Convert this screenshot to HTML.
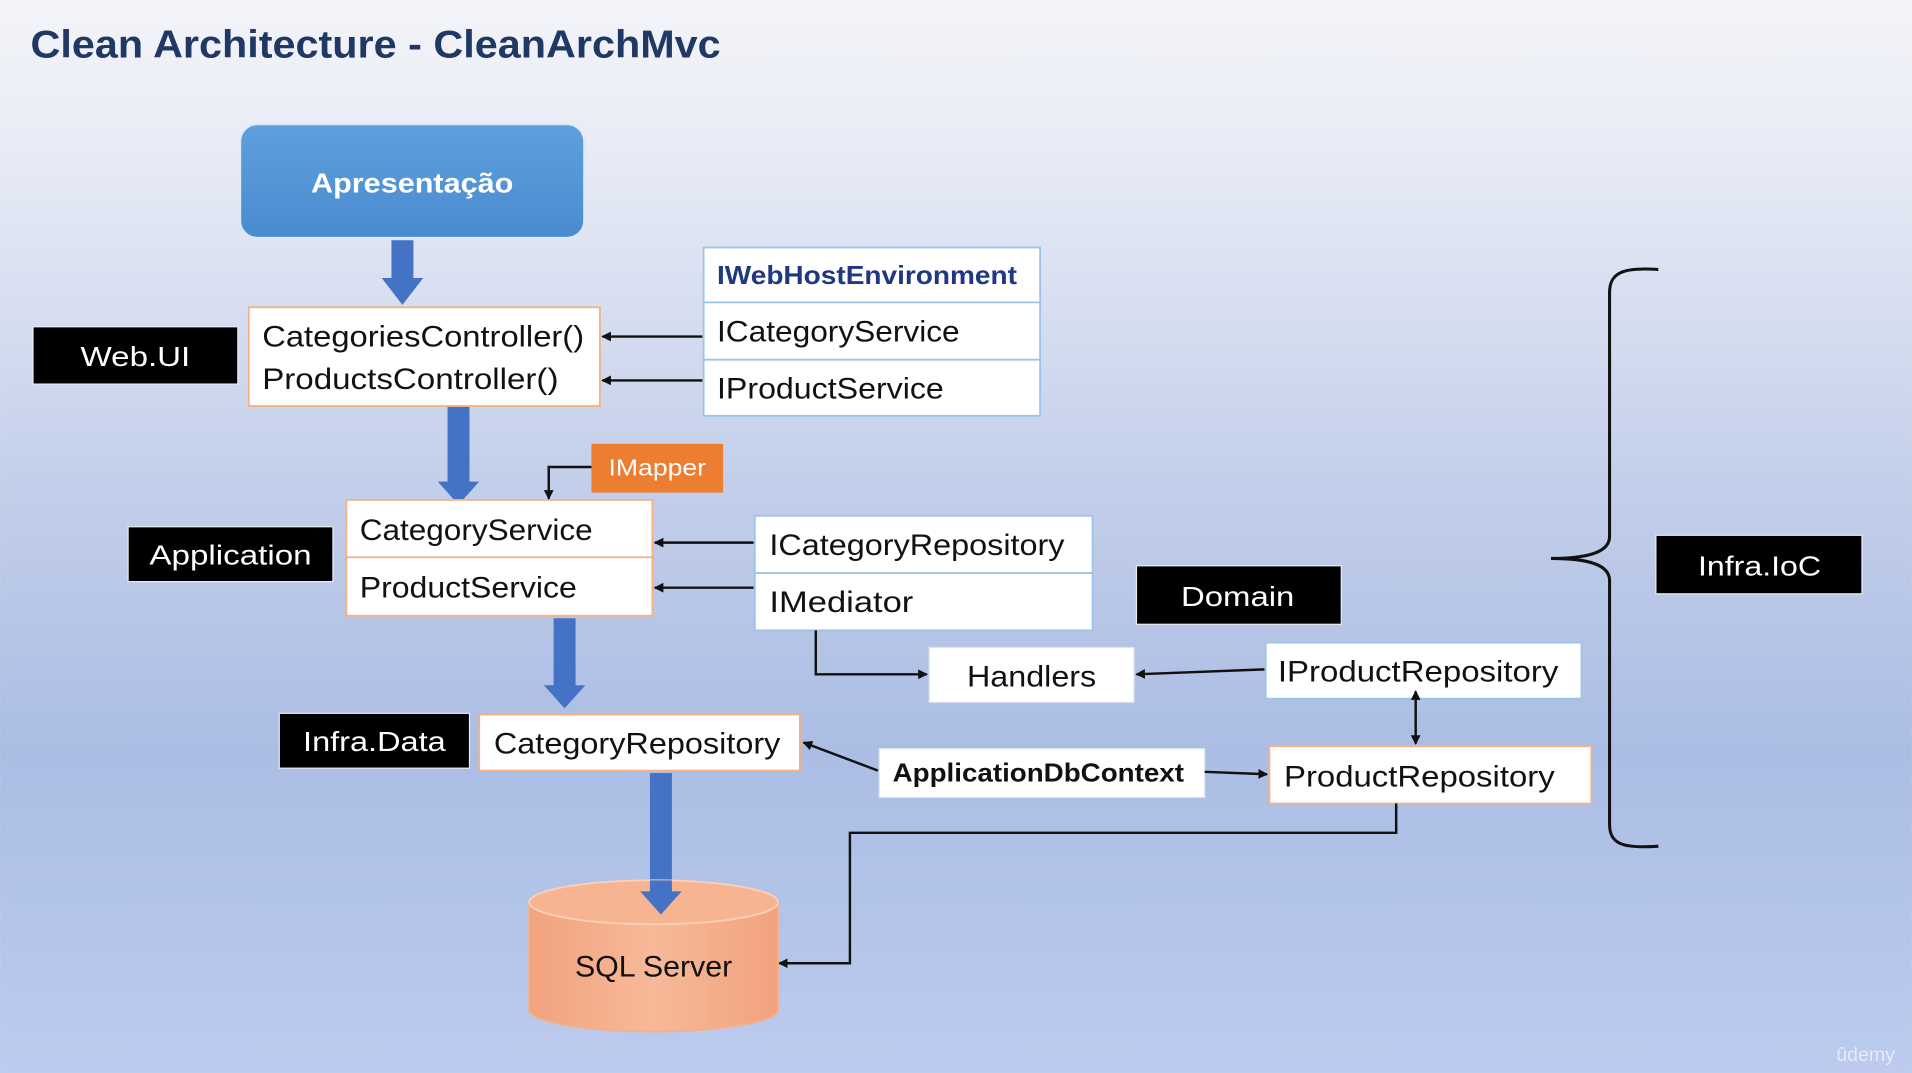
<!DOCTYPE html>
<html><head><meta charset="utf-8"><style>
html,body{margin:0;padding:0;width:1912px;height:1073px;overflow:hidden}
svg{display:block}
text{font-family:"Liberation Sans",sans-serif}
</style></head><body>
<svg width="1912" height="1073" viewBox="0 0 1568 880" xmlns="http://www.w3.org/2000/svg">
<defs>
<linearGradient id="bg" x1="0" y1="0" x2="0" y2="1">
<stop offset="0" stop-color="#f3f4f8"/><stop offset="0.12" stop-color="#eaedf6"/>
<stop offset="0.45" stop-color="#c3cfea"/><stop offset="0.7" stop-color="#abbde4"/>
<stop offset="1" stop-color="#bccbee"/></linearGradient>
<linearGradient id="ap" x1="0" y1="0" x2="0" y2="1"><stop offset="0" stop-color="#5ea0dc"/><stop offset="1" stop-color="#4a8bd0"/></linearGradient>
<linearGradient id="cyl" x1="0" y1="0" x2="1" y2="0"><stop offset="0" stop-color="#f2a27e"/><stop offset="0.5" stop-color="#f7b999"/><stop offset="1" stop-color="#f2a27e"/></linearGradient>
<marker id="ah" markerWidth="8" markerHeight="8" refX="7" refY="4" orient="auto" markerUnits="userSpaceOnUse"><path d="M0,0 L8,4 L0,8 z" fill="#111"/></marker>
<marker id="ahs" markerWidth="8" markerHeight="8" refX="7" refY="4" orient="auto-start-reverse" markerUnits="userSpaceOnUse"><path d="M0,0 L8,4 L0,8 z" fill="#111"/></marker>
</defs>
<rect width="1568" height="880" fill="url(#bg)"/>
<text x="25" y="47" font-size="32" font-weight="bold" fill="#1f3864" textLength="566" lengthAdjust="spacingAndGlyphs">Clean Architecture - CleanArchMvc</text>

<rect x="197" y="102" width="282" height="93" rx="14" fill="url(#ap)" stroke="#dfe9f6" stroke-width="1.5"/>
<text x="338" y="158" font-size="23" font-weight="bold" fill="#fff" text-anchor="middle" textLength="166" lengthAdjust="spacingAndGlyphs">Apresentação</text>

<g fill="#4472c4">
<path d="M321,197 h18 v31 h8 l-17,22 l-17,-22 h8 z"/>
<path d="M367,333 h18 v62 h8 l-17,19 l-17,-19 h8 z"/>
<path d="M454,507 h18 v55 h8 l-17,19 l-17,-19 h8 z"/>
<path d="M533,634 h18 v97 h8 l-17,19 l-17,-19 h8 z"/>
</g>

<g fill="#000" stroke="#e8ecf4" stroke-width="1">
<rect x="27" y="268" width="168" height="47"/>
<rect x="105" y="432" width="168" height="45"/>
<rect x="229" y="585" width="156" height="45"/>
<rect x="932" y="464" width="168" height="48"/>
<rect x="1358" y="439" width="169" height="48"/>
</g>
<g fill="#fff" font-size="23" text-anchor="middle">
<text x="111" y="300" textLength="90" lengthAdjust="spacingAndGlyphs">Web.UI</text>
<text x="189" y="463" textLength="133" lengthAdjust="spacingAndGlyphs">Application</text>
<text x="307" y="616" textLength="117" lengthAdjust="spacingAndGlyphs">Infra.Data</text>
<text x="1015" y="497" textLength="93" lengthAdjust="spacingAndGlyphs">Domain</text>
<text x="1443" y="472" textLength="101" lengthAdjust="spacingAndGlyphs">Infra.IoC</text>
</g>

<g fill="#fff" stroke="#f4b183" stroke-width="1.5">
<rect x="204" y="252" width="288" height="81"/>
<rect x="284" y="410" width="251" height="95"/>
<line x1="284" y1="457" x2="535" y2="457"/>
<rect x="393" y="586" width="263" height="46"/>
<rect x="1041" y="612" width="264" height="47"/>
</g>
<g fill="#fff" stroke="#9dc3e6" stroke-width="1.5">
<rect x="577" y="203" width="276" height="138"/>
<line x1="577" y1="248" x2="853" y2="248"/><line x1="577" y1="295" x2="853" y2="295"/>
<rect x="619" y="423" width="277" height="94"/>
<line x1="619" y1="470" x2="896" y2="470"/>
<rect x="1038" y="527" width="259" height="46"/>
</g>
<g fill="#fff" stroke="#dbe3f2" stroke-width="1">
<rect x="762" y="531" width="168" height="45"/>
<rect x="721" y="614" width="267" height="40"/>
</g>
<rect x="485" y="364" width="108" height="40" fill="#ed7d31"/>
<text x="539" y="390" font-size="19" fill="#fff" text-anchor="middle" textLength="80" lengthAdjust="spacingAndGlyphs">IMapper</text>

<g font-size="24" fill="#111">
<text x="215" y="284" textLength="264" lengthAdjust="spacingAndGlyphs">CategoriesController()</text>
<text x="215" y="319" textLength="243" lengthAdjust="spacingAndGlyphs">ProductsController()</text>
<text x="588" y="233" font-size="21" font-weight="bold" fill="#1f3880" textLength="246" lengthAdjust="spacingAndGlyphs">IWebHostEnvironment</text>
<text x="588" y="280" textLength="199" lengthAdjust="spacingAndGlyphs">ICategoryService</text>
<text x="588" y="327" textLength="186" lengthAdjust="spacingAndGlyphs">IProductService</text>
<text x="295" y="443" textLength="191" lengthAdjust="spacingAndGlyphs">CategoryService</text>
<text x="295" y="490" textLength="178" lengthAdjust="spacingAndGlyphs">ProductService</text>
<text x="631" y="455" textLength="242" lengthAdjust="spacingAndGlyphs">ICategoryRepository</text>
<text x="631" y="502" textLength="118" lengthAdjust="spacingAndGlyphs">IMediator</text>
<text x="846" y="563" text-anchor="middle" textLength="106" lengthAdjust="spacingAndGlyphs">Handlers</text>
<text x="1048" y="559" textLength="230" lengthAdjust="spacingAndGlyphs">IProductRepository</text>
<text x="1053" y="645" textLength="222" lengthAdjust="spacingAndGlyphs">ProductRepository</text>
<text x="405" y="618" textLength="235" lengthAdjust="spacingAndGlyphs">CategoryRepository</text>
<text x="732" y="641" font-size="21" font-weight="bold" textLength="239" lengthAdjust="spacingAndGlyphs">ApplicationDbContext</text>
</g>

<g stroke="#111" stroke-width="2" fill="none">
<line x1="576" y1="276" x2="494" y2="276" marker-end="url(#ah)"/>
<line x1="576" y1="312" x2="494" y2="312" marker-end="url(#ah)"/>
<polyline points="485,383 450,383 450,409" marker-end="url(#ah)"/>
<line x1="618" y1="445" x2="537" y2="445" marker-end="url(#ah)"/>
<line x1="618" y1="482" x2="537" y2="482" marker-end="url(#ah)"/>
<polyline points="669,517 669,553 760,553" marker-end="url(#ah)"/>
<line x1="1037" y1="549" x2="932" y2="553" marker-end="url(#ah)"/>
<line x1="1161" y1="567" x2="1161" y2="610" marker-start="url(#ahs)" marker-end="url(#ah)"/>
<line x1="988" y1="633" x2="1039" y2="635" marker-end="url(#ah)"/>
<line x1="720" y1="632" x2="659" y2="609" marker-end="url(#ah)"/>
<polyline points="1145,659 1145,683 697,683 697,790 639,790" marker-end="url(#ah)"/>
<path d="M1360,221 C1330,219 1320,224 1320,240 L1320,440 C1320,452 1305,458 1272,458 C1305,458 1320,464 1320,476 L1320,676 C1320,692 1330,696 1360,694" stroke-width="2.5"/>
</g>

<path d="M434,740 L434,828 A102,18 0 0 0 638,828 L638,740" fill="url(#cyl)" stroke="#f4b183" stroke-width="1.5"/>
<ellipse cx="536" cy="740" rx="102" ry="18" fill="#f7b493" stroke="#fbd0b9" stroke-width="1.5"/>
<path d="M533,722 h18 v9 h8 l-17,19 l-17,-19 h8 z" fill="#4472c4"/>
<text x="536" y="801" font-size="24" fill="#111" text-anchor="middle" textLength="129" lengthAdjust="spacingAndGlyphs">SQL Server</text>

<text x="1530" y="870" font-size="16" fill="#e6ebf5" text-anchor="middle">ûdemy</text>
</svg>
</body></html>
